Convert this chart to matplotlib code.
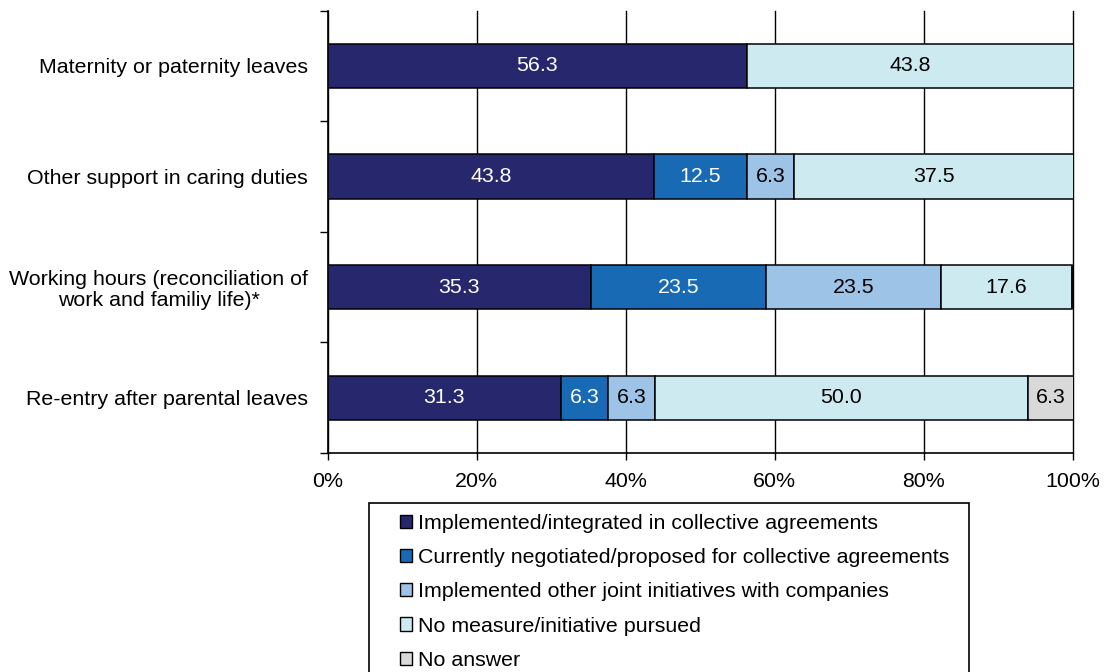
import matplotlib
matplotlib.use("Agg")
import matplotlib.pyplot as plt
from matplotlib.patches import Rectangle, Patch
import numpy as np

plt.rcParams['font.family'] = ['Liberation Sans', 'DejaVu Sans']

categories = [
    "Maternity or paternity leaves",
    "Other support in caring duties",
    "Working hours (reconciliation of\nwork and familiy life)*",
    "Re-entry after parental leaves",
]
series_names = [
    "Implemented/integrated in collective agreements",
    "Currently negotiated/proposed for collective agreements",
    "Implemented other joint initiatives with companies",
    "No measure/initiative pursued",
    "No answer",
]
implemented = [56.3, 43.8, 35.3, 31.3]
negotiated = [0.0, 12.5, 23.5, 6.3]
joint = [0.0, 6.3, 23.5, 6.3]
no_measure = [43.8, 37.5, 17.6, 50.0]
no_answer = [0.0, 0.0, 0.0, 6.3]
x_ticks = [0, 20, 40, 60, 80, 100]
x_tick_labels = ["0%", "20%", "40%", "60%", "80%", "100%"]

series = [implemented, negotiated, joint, no_measure, no_answer]
colors = ["#27276e", "#176ab3", "#9dc3e6", "#cdeaf0", "#d9d9d9"]
text_colors = ["white", "white", "black", "black", "black"]

W, H = 1107, 672
fig = plt.figure(figsize=(W / 100, H / 100), dpi=100)
ax = fig.add_axes([327.5 / W, 1 - 453 / H, (1073 - 327.5) / W, (453 - 10.7) / H])

fs = 15.4
y = np.arange(len(categories))
left = np.zeros(len(categories))
for vals, col, tcol in zip(series, colors, text_colors):
    vals = np.array(vals)
    bars = ax.barh(y, vals, left=left, height=0.40, color=col,
                   edgecolor="black", linewidth=1.1, zorder=3)
    for b, v in zip(bars, vals):
        if v > 0:
            ax.text(b.get_x() + b.get_width() / 2, b.get_y() + b.get_height() / 2,
                    f"{v:.1f}", ha="center", va="center", color=tcol,
                    fontsize=fs, zorder=4)
    left += vals

ax.set_xlim(0, 100)
ax.set_ylim(len(categories) - 0.5, -0.5)
ax.set_xticks(x_ticks)
ax.set_xticklabels(x_tick_labels, fontsize=fs)
ax.set_yticks(y)
ax.set_yticklabels(categories, fontsize=fs)
for lab in ax.get_yticklabels():
    lab.set_multialignment("center")
    lab.set_linespacing(1.1)
ax.set_yticks(np.arange(-0.5, len(categories)), minor=True)
ax.tick_params(axis="y", which="major", length=0, pad=14)
ax.tick_params(axis="y", which="minor", length=6, width=1.0, color="black")
ax.tick_params(axis="x", which="major", length=5, width=1.0, pad=9)

ax.grid(axis="x", color="black", linewidth=1.0, zorder=0)
for gl in ax.get_xgridlines():
    gl.set_clip_on(False)
ax.set_axisbelow(True)
for s in ["top", "right"]:
    ax.spines[s].set_visible(False)
for s in ["left", "bottom"]:
    ax.spines[s].set_linewidth(1.2)
    ax.spines[s].set_color("black")

# legend frame and entries
fig.patches.append(Rectangle((369 / W, -0.05), (969 - 369) / W, 0.05 + 1 - 503 / H,
                             transform=fig.transFigure, fill=False,
                             edgecolor="black", linewidth=1.2))
handles = [Patch(facecolor=c, edgecolor="black", linewidth=1.0) for c in colors]
fig.legend(handles, series_names, loc="upper left",
           bbox_to_anchor=(400 / W, 1 - 514 / H), frameon=False,
           fontsize=fs, handlelength=0.56, handleheight=0.56,
           handletextpad=0.28, labelspacing=0.71, borderpad=0,
           borderaxespad=0)

fig.savefig("out.png", dpi=100)
